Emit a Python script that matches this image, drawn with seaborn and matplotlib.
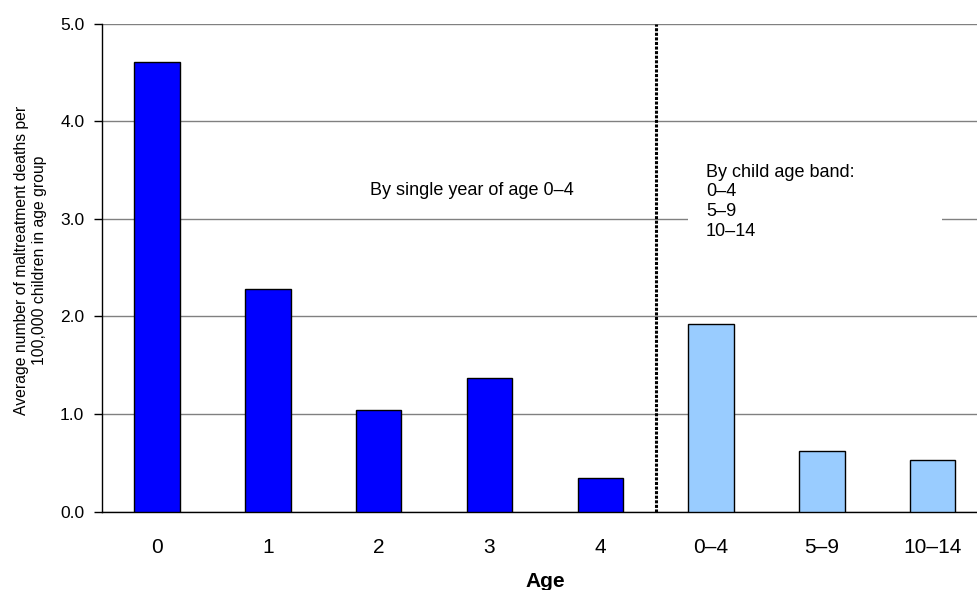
import matplotlib
matplotlib.use("Agg")
import matplotlib.pyplot as plt
from matplotlib.patches import Rectangle
import seaborn as sns
import pandas as pd
import numpy as np

categories = ["0", "1", "2", "3", "4", "0–4", "5–9", "10–14"]
values = [4.61, 2.28, 1.045, 1.37, 0.345, 1.92, 0.615, 0.53]
groups = ["single", "single", "single", "single", "single", "band", "band", "band"]
yticks = [0.0, 1.0, 2.0, 3.0, 4.0, 5.0]

sns.set_theme(style="white")
plt.rcParams["font.family"] = ["Liberation Sans", "DejaVu Sans"]
for k in ["text.color", "axes.labelcolor", "xtick.color", "ytick.color"]:
    plt.rcParams[k] = "black"

df = pd.DataFrame({"Age": categories, "Rate": values, "Group": groups})

fig = plt.figure(figsize=(9.77, 5.9), dpi=100)
ax = fig.add_axes([101.7 / 977, (590 - 511.5) / 590, 886.3 / 977, (511.5 - 23.6) / 590])

sns.barplot(data=df, x="Age", y="Rate", hue="Group", order=categories,
            palette={"single": "#0000FF", "band": "#99CCFF"}, dodge=False,
            saturation=1, width=0.41, edgecolor="black", linewidth=1.0,
            legend=False, ax=ax, zorder=3)

ax.set_xlim(-0.5, len(categories) - 0.5)
ax.set_ylim(0, 5.0)
ax.set_yticks(yticks)
ax.set_yticklabels([f"{v:.1f}" for v in yticks], fontsize=12.5)
ax.yaxis.grid(True, color="#808080", linewidth=1.0, zorder=0)
ax.set_axisbelow(True)

ax.set_xticks(np.arange(len(categories)))
ax.set_xticklabels(categories, fontsize=15)
ax.tick_params(axis="x", which="major", length=0, pad=19)
ax.set_xticks(np.arange(len(categories) + 1) - 0.5, minor=True)
ax.tick_params(axis="x", which="minor", length=5.5, width=1, color="black", direction="out")
ax.tick_params(axis="y", length=6, width=1, color="black", direction="out", left=True, pad=6.5)

for s in ["top", "right"]:
    ax.spines[s].set_visible(False)
for s in ["left", "bottom"]:
    ax.spines[s].set_color("black")
    ax.spines[s].set_linewidth(1.0)

ax.axvline(4.5, color="black", linestyle=(0, (1, 0.5)), linewidth=2.2, zorder=4)

ax.text(2.84, 3.243, "By single year of age 0–4", fontsize=13, ha="center", va="baseline")
ax.add_patch(Rectangle((4.79, 2.88), 7.084 - 4.79, 3.70 - 2.88, facecolor="white",
                       edgecolor="none", zorder=2))
ax.text(4.954, 3.565, "By child age band:\n0–4\n5–9\n10–14", fontsize=13, ha="left", va="top",
        linespacing=1.22, zorder=5)

ax.set_xlabel("Age", fontsize=15, fontweight="bold", labelpad=11)
ax.set_ylabel("Average number of maltreatment deaths per\n100,000 children in age group",
              fontsize=11.3, linespacing=1.25)
ax.yaxis.set_label_coords(-0.0617, 0.515)

fig.savefig("out.png", dpi=100)
